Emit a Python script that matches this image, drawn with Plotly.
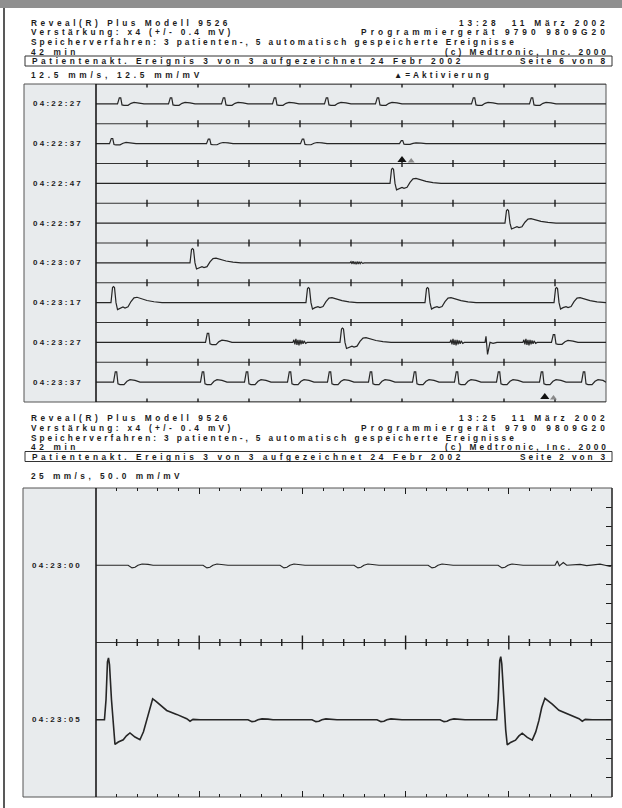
import plotly.graph_objects as go

W, H = 622, 808


def px(x):
    return x / W


def py(y):
    return 1 - y / H


INK = "#1c1c1c"
PANEL_BG = "#e8ebed"
FONT = "Liberation Sans"

# ---------------- text ----------------
HDR_LEFT = ["Reveal(R) Plus Modell 9526",
            "Verstärkung: x4 (+/- 0.4 mV)",
            "Speicherverfahren: 3 patienten-, 5 automatisch gespeicherte Ereignisse",
            "42 min"]
HDR1_RIGHT = ["13:28\u00a0\u00a011 März 2002", "Programmiergerät 9790 9809G20", "",
              "(c) Medtronic, Inc. 2000"]
HDR2_RIGHT = ["13:25\u00a0\u00a011 März 2002", "Programmiergerät 9790 9809G20", "",
              "(c) Medtronic, Inc. 2000"]
BOX_LEFT = "Patientenakt. Ereignis 3 von 3 aufgezeichnet 24 Febr 2002"
HDR1_BOX_RIGHT = "Seite 6 von 8"
HDR2_BOX_RIGHT = "Seite 2 von 3"
HDR1_SCALE = "12.5 mm/s, 12.5 mm/mV"
HDR2_SCALE = "25 mm/s, 50.0 mm/mV"
ACT_LEGEND = "▲=Aktivierung"

TOP_ROW_LABELS = ["04:22:27", "04:22:37", "04:22:47", "04:22:57",
                  "04:23:07", "04:23:17", "04:23:27", "04:23:37"]
BOTTOM_ROW_LABELS = ["04:23:00", "04:23:05"]

# printed width of each text on the page (px), used to spread the letters
HDR_LEFT_W = [200, 203, 486, 48]
HDR_RIGHT_W = [150, 248, 0, 164]
BOX_LEFT_W = 432
BOX_RIGHT_W = 88
HDR1_SCALE_W = 172
HDR2_SCALE_W = 152
ACT_LEGEND_W = 98
ROW_LABEL_W = 50

# ---------------- scales ----------------
TOP_SECONDS = 10          # seconds per strip row (12.5 mm/s)
BOT_SECONDS = 5           # seconds per strip row (25 mm/s)
ROW_MV = 0.78             # mV between top rows at 12.5 mm/mV
BOT_RANGE_MV = 1.5        # bottom panel height in mV at 50 mm/mV

TOP_TICK_S = [1, 2, 3, 4, 5, 6, 7, 8, 9]
BOT_MAJOR_S = [1, 2, 3, 4]
BOT_MINOR_S = [0.2, 0.4, 0.6, 0.8, 1.2, 1.4, 1.6, 1.8, 2.2, 2.4, 2.6, 2.8,
               3.2, 3.4, 3.6, 3.8, 4.2, 4.4, 4.6, 4.8]
BOT_RIGHT_TICKS_MV = [-0.094, -0.188, -0.281, -0.375, -0.469, -0.563, -0.656,
                      -0.844, -0.938, -1.031, -1.125, -1.219, -1.313, -1.406]

# ---------------- beat shapes (s from R peak, mV) ----------------
N_T = [-0.049, -0.014, 0.014, 0.039, 0.078, 0.157, 0.216, 0.275, 0.373, 0.471]
N_V = [0.0, 0.118, 0.118, -0.020, -0.029, -0.029, 0.010, 0.029, 0.020, 0.0]
V_T = [-0.059, -0.029, -0.010, 0.010, 0.039, 0.069, 0.118, 0.176, 0.216, 0.275,
       0.333, 0.392, 0.451, 0.529, 0.647, 0.784, 0.941]
V_V = [0.0, 0.275, 0.294, 0.275, 0.0, -0.127, -0.098, -0.078, -0.098, -0.078,
       0.020, 0.088, 0.098, 0.069, 0.039, 0.016, 0.0]
D_T = [-0.039, -0.020, 0.010, 0.039, 0.059, 0.118, 0.196]
D_V = [0.0, 0.118, -0.235, -0.078, 0.0, -0.020, 0.0]
Z_T = [0.0, 0.02, 0.04, 0.06, 0.08, 0.10, 0.12, 0.14, 0.16, 0.18, 0.20, 0.22, 0.25, 0.28]
Z_V = [0.0, 0.05, -0.04, 0.07, -0.05, 0.05, -0.06, 0.05, -0.04, 0.04, -0.03, 0.03, -0.02, 0.0]
B_T = [-0.039, -0.024, -0.010, 0.0, 0.010, 0.029, 0.048, 0.063, 0.095, 0.143, 0.174,
       0.208, 0.257, 0.305, 0.339, 0.370, 0.397, 0.428, 0.455, 0.499, 0.564, 0.661,
       0.758, 0.790, 0.819, 0.887]
B_V = [0.0, 0.097, 0.281, 0.300, 0.266, 0.097, -0.048, -0.120, -0.108, -0.097, -0.078,
       -0.064, -0.084, -0.097, -0.058, -0.003, 0.058, 0.102, 0.092, 0.074, 0.045, 0.026,
       0.005, -0.007, 0.002, 0.0]
F_T = [-0.048, -0.010, 0.019, 0.048, 0.087, 0.145, 0.194]
F_V = [0.0, -0.013, -0.010, 0.0, 0.006, 0.004, 0.0]
E_T = [0.0, 0.022, 0.042, 0.058, 0.080, 0.113, 0.174, 0.242, 0.307, 0.368, 0.436, 0.484, 0.533]
E_V = [0.0, 0.021, -0.003, 0.005, 0.013, 0.0, 0.001, 0.004, -0.002, 0.003, 0.005, 0.0, -0.005]

SHAPES = {"N": (N_T, N_V), "V": (V_T, V_V), "D": (D_T, D_V), "Z": (Z_T, Z_V),
          "B": (B_T, B_V), "F": (F_T, F_V), "E": (E_T, E_V)}

# events per row: (time s, shape, amplitude factor)
TOP_ROW_1 = [(0.471, "N", 1.0), (1.471, "N", 1.0), (2.510, "N", 1.0), (3.510, "N", 1.0),
             (4.529, "N", 1.0), (5.529, "N", 1.0), (7.412, "N", 1.0), (8.549, "N", 1.0)]
TOP_ROW_2 = [(0.314, "N", 0.85), (2.216, "N", 0.75), (4.059, "N", 0.75), (6.000, "N", 0.5)]
TOP_ROW_3 = [(5.824, "V", 1.0)]
TOP_ROW_4 = [(8.078, "V", 0.9)]
TOP_ROW_5 = [(1.902, "V", 0.95), (4.980, "Z", 0.5)]
TOP_ROW_6 = [(0.353, "V", 1.07), (4.176, "V", 1.0), (6.510, "V", 1.0), (9.040, "V", 1.0)]
TOP_ROW_7 = [(2.196, "N", 1.5), (3.860, "Z", 1.0), (4.843, "V", 0.95), (6.940, "Z", 1.0),
             (7.667, "D", 1.0), (8.370, "Z", 1.0), (8.980, "N", 1.3)]
TOP_ROW_8 = [(0.392, "N", 1.7), (2.098, "N", 1.7), (2.961, "N", 1.7), (3.804, "N", 1.7),
             (4.588, "N", 1.7), (5.392, "N", 1.7), (6.255, "N", 1.7), (7.078, "N", 1.7),
             (7.902, "N", 1.7), (8.745, "N", 1.7), (9.569, "N", 1.7)]
TOP_ROWS = [TOP_ROW_1, TOP_ROW_2, TOP_ROW_3, TOP_ROW_4,
            TOP_ROW_5, TOP_ROW_6, TOP_ROW_7, TOP_ROW_8]

BOT_ROW_1 = [(0.359, "F", 1.0), (1.085, "F", 1.0), (1.831, "F", 1.0), (2.548, "F", 1.0),
             (3.266, "F", 1.0), (3.944, "F", 1.0), (4.448, "E", 1.0)]
BOT_ROW_2 = [(0.121, "B", 1.0), (1.521, "F", 0.7), (2.141, "F", 0.7), (2.771, "F", 0.7),
             (3.382, "F", 0.7), (3.922, "B", 1.02)]
BOT_ROWS = [BOT_ROW_1, BOT_ROW_2]

# activation markers on the top strip (s, mV)
ACT_T = [6.00, 8.80]
ACT_MV = [-1.49, -6.14]
ACT2_T = [6.18, 8.97]
ACT2_MV = [-1.51, -6.16]

# Arial / Liberation Sans Bold advance widths (1/1000 em)
_ADV = {" ": 278, "\u00a0": 278, "(": 333, ")": 333, "+": 584, ",": 278, "-": 333,
        ".": 278, "/": 278, ":": 333, "=": 584, "▲": 990, "ä": 556}
for _c in "0123456789":
    _ADV[_c] = 556
for _c, _w in zip("ABCDEFGHIJKLMNOPQRSTUVWXYZ",
                  [722, 722, 722, 722, 667, 611, 778, 722, 278, 556, 722, 611, 833, 722,
                   778, 667, 778, 722, 667, 611, 722, 667, 944, 667, 667, 611]):
    _ADV[_c] = _w
for _c, _w in zip("abcdefghijklmnopqrstuvwxyz",
                  [556, 611, 556, 611, 556, 333, 611, 611, 278, 278, 556, 278, 889, 611,
                   611, 611, 611, 389, 556, 333, 611, 556, 778, 556, 556, 500]):
    _ADV[_c] = _w


def build(events, seconds, base):
    xs, ys = [0.0], [base]
    for t0, key, amp in sorted(events):
        tt, vv = SHAPES[key]
        for dt, v in zip(tt, vv):
            t = t0 + dt
            if 0.0 <= t <= seconds:
                xs.append(t)
                ys.append(base + v * amp)
    xs.append(seconds)
    ys.append(base)
    return xs, ys


fig = go.Figure()

for k, ev in enumerate(TOP_ROWS):
    xs, ys = build(ev, TOP_SECONDS, -(k + 0.5) * ROW_MV)
    fig.add_trace(go.Scatter(x=xs, y=ys, mode="lines", xaxis="x", yaxis="y",
                             line=dict(color="#262626", width=1.2), hoverinfo="skip"))

for k in range(9):
    fig.add_trace(go.Scatter(x=TOP_TICK_S, y=[-k * ROW_MV] * len(TOP_TICK_S), mode="markers",
                             xaxis="x", yaxis="y", hoverinfo="skip",
                             marker=dict(symbol="line-ns", size=5,
                                         line=dict(width=1.4, color=INK))))

fig.add_trace(go.Scatter(x=ACT_T, y=ACT_MV, mode="markers", xaxis="x", yaxis="y",
                         hoverinfo="skip",
                         marker=dict(symbol="triangle-up", size=8, color="#111111")))
fig.add_trace(go.Scatter(x=ACT2_T, y=ACT2_MV, mode="markers", xaxis="x", yaxis="y",
                         hoverinfo="skip",
                         marker=dict(symbol="triangle-up", size=6, color="#8a8a8a")))

for j, ev in enumerate(BOT_ROWS):
    xs, ys = build(ev, BOT_SECONDS, -(0.375 + 0.75 * j))
    fig.add_trace(go.Scatter(x=xs, y=ys, mode="lines", xaxis="x2", yaxis="y2",
                             line=dict(color="#262626", width=1.6 if j else 1.2),
                             hoverinfo="skip"))

fig.add_trace(go.Scatter(x=BOT_MINOR_S, y=[-0.75] * len(BOT_MINOR_S), mode="markers",
                         xaxis="x2", yaxis="y2", hoverinfo="skip",
                         marker=dict(symbol="line-ns", size=5, line=dict(width=1.4, color=INK))))
fig.add_trace(go.Scatter(x=BOT_MAJOR_S, y=[-0.75] * len(BOT_MAJOR_S), mode="markers",
                         xaxis="x2", yaxis="y2", hoverinfo="skip",
                         marker=dict(symbol="line-ns", size=10, line=dict(width=1.4, color=INK))))

shapes = []
shapes.append(dict(type="rect", xref="paper", yref="paper", x0=0, x1=1, y0=py(8), y1=1,
                   fillcolor="#8f8f8f", line=dict(width=0), layer="below"))
shapes.append(dict(type="line", xref="paper", yref="paper", x0=px(4), x1=px(4),
                   y0=0, y1=py(8), line=dict(color="#222222", width=1.5)))

for (y0, y1) in [(56, 66), (451.5, 461.5)]:
    shapes.append(dict(type="rect", xref="paper", yref="paper", x0=px(25), x1=px(612),
                       y0=py(y1), y1=py(y0), line=dict(color="#333333", width=1)))

for (x0, x1, y0, y1) in [(24, 606, 84, 402), (23, 612, 488, 797)]:
    shapes.append(dict(type="rect", xref="paper", yref="paper", x0=px(x0), x1=px(x1),
                       y0=py(y1), y1=py(y0), fillcolor=PANEL_BG,
                       line=dict(color="#555555", width=1), layer="below"))
for (y0, y1) in [(84, 402), (488, 797)]:
    shapes.append(dict(type="line", xref="paper", yref="paper", x0=px(96), x1=px(96),
                       y0=py(y1), y1=py(y0), line=dict(color="#1a1a1a", width=1.6)))

for k in range(9):
    shapes.append(dict(type="line", xref="x", yref="y", x0=0, x1=TOP_SECONDS,
                       y0=-k * ROW_MV, y1=-k * ROW_MV, line=dict(color="#333333", width=1.1),
                       layer="below"))
shapes.append(dict(type="line", xref="x2", yref="y2", x0=0, x1=BOT_SECONDS,
                   y0=-0.75, y1=-0.75, line=dict(color="#333333", width=1.2), layer="below"))
shapes.append(dict(type="line", xref="paper", yref="paper", x0=px(612), x1=px(612),
                   y0=py(797), y1=py(488), line=dict(color="#333333", width=1.4)))

ann = []


def text(s, x, y, width, anchor="left", size=8.3, color=INK):
    natural = sum(_ADV.get(c, 556) for c in s) * size / 1000.0
    ls = max(0.0, (width - natural) / len(s))
    ann.append(dict(text='<span style="letter-spacing:%.2fpx">%s</span>' % (ls, s),
                    x=px(x), y=py(y), xref="paper", yref="paper", showarrow=False,
                    xanchor=anchor, yanchor="middle", borderpad=0,
                    font=dict(family=FONT, size=size, color=color, weight="bold")))


for rows, rights, box_y, box_right, scale_txt, scale_w, scale_y in [
        ([23, 32.5, 42, 51.5], HDR1_RIGHT, 61, HDR1_BOX_RIGHT, HDR1_SCALE, HDR1_SCALE_W, 74.5),
        ([418.5, 428, 437.5, 447], HDR2_RIGHT, 456.5, HDR2_BOX_RIGHT, HDR2_SCALE,
         HDR2_SCALE_W, 476)]:
    for yy, lt, lw, rt, rw in zip(rows, HDR_LEFT, HDR_LEFT_W, rights, HDR_RIGHT_W):
        text(lt, 30, yy, lw)
        if rt:
            text(rt, 610, yy, rw, anchor="right")
    text(BOX_LEFT, 31, box_y, BOX_LEFT_W)
    text(box_right, 609, box_y, BOX_RIGHT_W, anchor="right")
    text(scale_txt, 30, scale_y, scale_w)

text(ACT_LEGEND, 393, 74.5, ACT_LEGEND_W)

for k, lab in enumerate(TOP_ROW_LABELS):
    text(lab, 58, 84 + 39.75 * (k + 0.5), ROW_LABEL_W, anchor="center", size=8)
for j, lab in enumerate(BOTTOM_ROW_LABELS):
    text(lab, 57, 488 + 77.25 * (1 + 2 * j), ROW_LABEL_W, anchor="center", size=8)

axis_off = dict(showgrid=False, zeroline=False, showticklabels=False, ticks="",
                showline=False, fixedrange=True)
edge_ticks = dict(showgrid=False, zeroline=False, showticklabels=False, showline=False,
                  fixedrange=True, ticks="inside", tickmode="array", tickvals=BOT_MAJOR_S,
                  ticklen=6, tickwidth=1.3, tickcolor=INK,
                  minor=dict(tickmode="array", tickvals=BOT_MINOR_S, ticks="inside",
                             ticklen=3, tickwidth=1.2, tickcolor=INK))

fig.update_layout(
    width=W, height=H, margin=dict(l=0, r=0, t=0, b=0),
    paper_bgcolor="white", plot_bgcolor="rgba(0,0,0,0)", showlegend=False,
    shapes=shapes, annotations=ann,
    xaxis=dict(domain=[px(96), px(606)], range=[0, TOP_SECONDS], anchor="y", **axis_off),
    yaxis=dict(domain=[py(402), py(84)], range=[-8 * ROW_MV, 0], anchor="x", **axis_off),
    xaxis2=dict(domain=[px(96), px(612)], range=[0, BOT_SECONDS], anchor="y2", **edge_ticks),
    xaxis3=dict(overlaying="x2", side="top", anchor="y2", range=[0, BOT_SECONDS], **edge_ticks),
    yaxis2=dict(domain=[py(797), py(488)], range=[-BOT_RANGE_MV, 0], anchor="x2",
                side="right", showgrid=False, zeroline=False, showticklabels=False,
                showline=False, fixedrange=True, ticks="inside", tickmode="array",
                tickvals=BOT_RIGHT_TICKS_MV, ticklen=6, tickwidth=1.2, tickcolor=INK),
)

fig.add_trace(go.Scatter(x=[0], y=[-0.375], xaxis="x3", yaxis="y2", mode="markers",
                         marker=dict(size=1, opacity=0), hoverinfo="skip"))

fig.write_html("out.html", config={"displayModeBar": False},
               post_script="document.body.style.margin='0';")
